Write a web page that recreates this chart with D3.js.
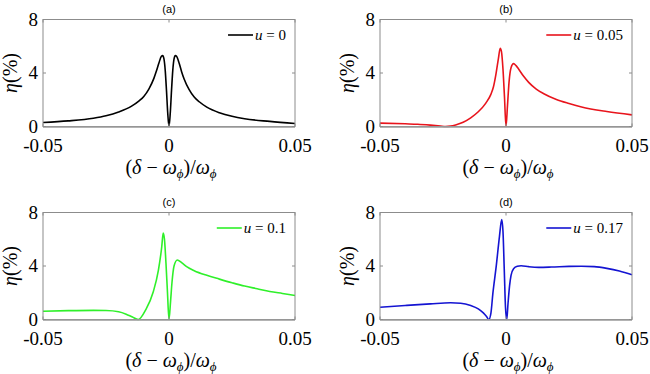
<!DOCTYPE html>
<html>
<head>
<meta charset="utf-8">
<script src="https://cdn.jsdelivr.net/npm/d3@7"></script>
<style>
  body { margin: 0; background: #fff; }
  svg { display: block; }
  .tick-label { font-family: "Liberation Serif", "DejaVu Serif", serif; font-size: 19px; fill: #000; }
  .ax-label { font-family: "Liberation Serif", "DejaVu Serif", serif; font-size: 20px; fill: #000; }
  .panel-title { font-family: "Liberation Sans", Arial, sans-serif; font-size: 11px; fill: #000; }
  .legend-text { font-family: "Liberation Serif", "DejaVu Serif", serif; font-size: 15px; fill: #000; }
</style>
</head>
<body>
<svg id="chart" width="650" height="374"></svg>
<script>
// detuning values and efficiency (%)
var deltaA = [-0.05,-0.04,-0.03,-0.025,-0.02,-0.015,-0.012,-0.01,-0.008,-0.006,-0.005,-0.004,-0.003,-0.0025,-0.002,-0.0015,-0.001,-0.0005,0,
              0.0005,0.001,0.0015,0.002,0.0025,0.003,0.004,0.005,0.006,0.008,0.01,0.012,0.015,0.02,0.025,0.03,0.04,0.05];
var etaA   = [0.30,0.42,0.62,0.80,1.08,1.50,1.90,2.25,2.80,3.60,4.15,4.75,5.25,5.30,5.05,4.2,2.7,1.0,0,
              1.0,2.7,4.2,5.05,5.30,5.25,4.75,4.1,3.55,2.75,2.2,1.85,1.45,1.03,0.76,0.58,0.38,0.22];

var deltaB = [-0.05,-0.04,-0.035,-0.03,-0.026,-0.024,-0.022,-0.02,-0.017,-0.014,-0.011,-0.008,-0.006,-0.005,-0.004,-0.003,-0.0023,-0.0018,-0.0012,-0.0006,0,
              0.0006,0.0012,0.002,0.003,0.004,0.005,0.007,0.009,0.012,0.015,0.02,0.025,0.03,0.04,0.05];
var etaB   = [0.25,0.20,0.17,0.10,0.03,0.0,0.03,0.12,0.32,0.65,1.1,1.75,2.4,2.95,3.9,5.1,5.85,5.6,4.3,2.2,0,
              1.6,3.3,4.4,4.7,4.55,4.3,3.75,3.3,2.8,2.45,2.02,1.72,1.46,1.12,0.87];

var deltaC = [-0.05,-0.04,-0.03,-0.025,-0.02,-0.017,-0.0145,-0.0122,-0.0092,-0.0062,-0.0042,-0.0029,-0.0023,-0.0018,-0.0012,-0.0006,0,
              0.0006,0.0012,0.002,0.0033,0.005,0.007,0.01,0.015,0.02,0.025,0.03,0.035,0.04,0.045,0.05];
var etaC   = [0.62,0.66,0.68,0.67,0.58,0.40,0.18,0.0,0.74,2.1,3.7,5.4,6.47,6.0,4.2,2.0,0,
              1.3,2.8,4.0,4.45,4.25,3.95,3.65,3.3,3.02,2.75,2.5,2.3,2.1,1.95,1.8];

var deltaD = [-0.05,-0.04,-0.03,-0.022,-0.018,-0.014,-0.011,-0.009,-0.0078,-0.0068,-0.006,-0.0052,-0.0039,-0.0026,-0.0017,-0.0012,-0.0007,-0.0002,0.0003,
              0.0008,0.0014,0.002,0.003,0.0045,0.006,0.009,0.013,0.018,0.025,0.03,0.035,0.04,0.045,0.05];
var etaD   = [0.92,1.05,1.17,1.25,1.22,1.05,0.8,0.5,0.25,0.0,0.45,1.97,3.95,6.2,7.47,6.6,3.8,0.9,0.0,
              1.2,2.5,3.3,3.8,3.98,4.02,3.95,3.9,3.92,3.97,3.98,3.95,3.82,3.62,3.34];

var panelTags = ["(a)", "(b)", "(c)", "(d)"];
var uValues = ["0", "0.05", "0.1", "0.17"];
var colors = ["#000000", "#e8141c", "#2ff02a", "#1414d2"];
var xTicks = [-0.05, 0, 0.05];
var xTickLabels = ["-0.05", "0", "0.05"];
var yTicks = [0, 4, 8];

var deltas = [deltaA, deltaB, deltaC, deltaD];
var etas = [etaA, etaB, etaC, etaD];

var svg = d3.select("#chart");

var pw = 252, ph = 107;
var lefts = [43, 380], tops = [19.5, 212.5];

var x = d3.scaleLinear().domain([-0.05, 0.05]).range([0, pw]);
var y = d3.scaleLinear().domain([0, 8]).range([ph, 0]);

var line = d3.line()
  .x(function(d) { return x(d[0]); })
  .y(function(d) { return y(d[1]); })
  .curve(d3.curveMonotoneX);

panelTags.forEach(function(tag, i) {
  var col = i % 2, row = Math.floor(i / 2);
  var g = svg.append("g")
    .attr("transform", "translate(" + lefts[col] + "," + tops[row] + ")");

  var pts = d3.zip(deltas[i], etas[i]);

  g.append("path")
    .datum(pts)
    .attr("d", line)
    .attr("fill", "none")
    .attr("stroke", colors[i])
    .attr("stroke-width", 1.6)
    .attr("stroke-linejoin", "round");

  // box
  g.append("rect")
    .attr("width", pw).attr("height", ph)
    .attr("fill", "none").attr("stroke", "#8c8c8c").attr("stroke-width", 1);
  g.append("line")
    .attr("x1", 0).attr("x2", pw).attr("y1", ph + 0.5).attr("y2", ph + 0.5)
    .attr("stroke", "#9a9a9a").attr("stroke-width", 1.6);

  // inward ticks
  xTicks.forEach(function(t) {
    g.append("line").attr("x1", x(t)).attr("x2", x(t)).attr("y1", ph).attr("y2", ph - 3).attr("stroke", "#8c8c8c");
    g.append("line").attr("x1", x(t)).attr("x2", x(t)).attr("y1", 0).attr("y2", 3).attr("stroke", "#8c8c8c");
  });
  yTicks.forEach(function(t) {
    g.append("line").attr("x1", 0).attr("x2", 3).attr("y1", y(t)).attr("y2", y(t)).attr("stroke", "#8c8c8c");
    g.append("line").attr("x1", pw).attr("x2", pw - 3).attr("y1", y(t)).attr("y2", y(t)).attr("stroke", "#8c8c8c");
  });

  g.selectAll(".ytl").data(yTicks).enter().append("text")
    .attr("class", "tick-label")
    .attr("x", -5).attr("y", function(d) { return y(d) + 6; })
    .attr("text-anchor", "end")
    .text(function(d) { return d; });

  g.selectAll(".xtl").data(xTicks).enter().append("text")
    .attr("class", "tick-label")
    .attr("x", function(d) { return x(d); }).attr("y", ph + 25)
    .attr("text-anchor", "middle")
    .text(function(d, j) { return xTickLabels[j]; });

  g.append("text").attr("class", "panel-title")
    .attr("x", pw / 2).attr("y", -7)
    .attr("text-anchor", "middle")
    .text(tag);

  // x label (δ − ω_ϕ)/ω_ϕ
  var xl = g.append("text").attr("class", "ax-label")
    .attr("x", pw / 2 + 2).attr("y", ph + 47)
    .attr("text-anchor", "middle");
  xl.append("tspan").text("(");
  xl.append("tspan").attr("font-style", "italic").text("δ");
  xl.append("tspan").text(" − ");
  xl.append("tspan").attr("font-style", "italic").text("ω");
  xl.append("tspan").attr("font-style", "italic").attr("font-size", "13px").attr("dy", 4).text("ϕ");
  xl.append("tspan").attr("dy", -4).text(")/");
  xl.append("tspan").attr("font-style", "italic").text("ω");
  xl.append("tspan").attr("font-style", "italic").attr("font-size", "13px").attr("dy", 4).text("ϕ");

  // y label η(%)
  var yl = g.append("text").attr("class", "ax-label")
    .attr("transform", "translate(-26," + (ph / 2) + ") rotate(-90)")
    .attr("text-anchor", "middle");
  yl.append("tspan").attr("font-style", "italic").text("η");
  yl.append("tspan").text("(%)");

  // legend
  var lt = g.append("text").attr("class", "legend-text")
    .attr("x", pw - 9).attr("y", 20.5)
    .attr("text-anchor", "end");
  lt.append("tspan").attr("font-style", "italic").text("u");
  lt.append("tspan").text(" = " + uValues[i]);
  var w = lt.node().getComputedTextLength();
  g.append("line")
    .attr("x1", pw - 9 - w - 27).attr("x2", pw - 9 - w - 2)
    .attr("y1", 15.5).attr("y2", 15.5)
    .attr("stroke", colors[i]).attr("stroke-width", 1.6);
});
</script>
</body>
</html>
